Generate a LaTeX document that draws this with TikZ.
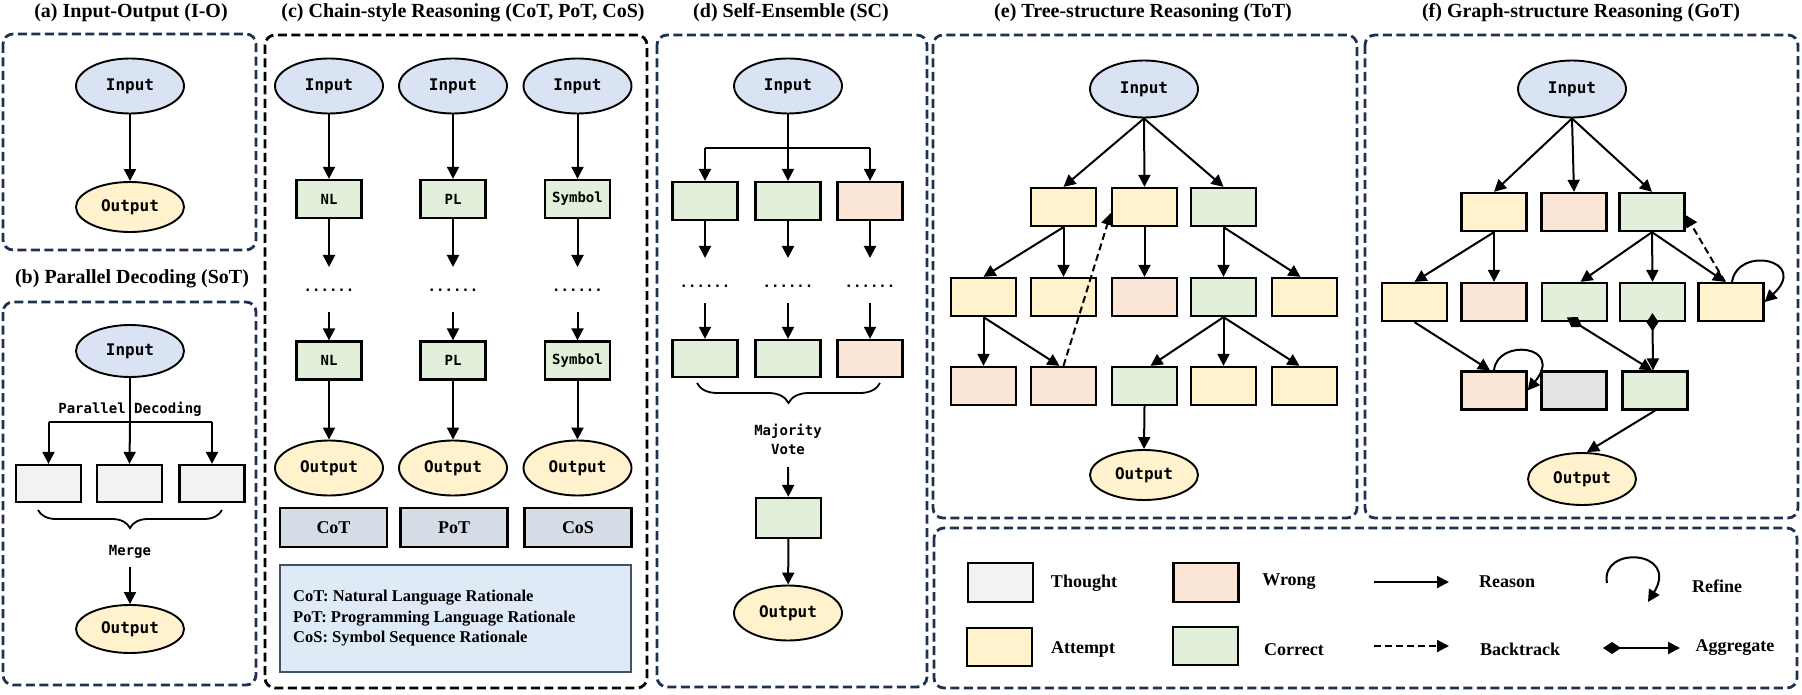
\documentclass[tikz,border=0pt]{standalone}
\usepackage{fontspec}
\setmainfont{Liberation Serif}
\newfontfamily\monof{DejaVu Sans Mono}
\usetikzlibrary{shapes.geometric,arrows.meta,decorations.pathreplacing}
\definecolor{navy}{HTML}{1F3152}
\definecolor{inblue}{HTML}{DAE3F3}
\definecolor{outyel}{HTML}{FFF2CC}
\definecolor{corc}{HTML}{E2EFDA}
\definecolor{wrgc}{HTML}{FBE5D6}
\definecolor{attc}{HTML}{FFF2CC}
\definecolor{thgc}{HTML}{F2F2F2}
\definecolor{thgd}{HTML}{E3E3E3}
\definecolor{cotc}{HTML}{D6DCE5}
\definecolor{legbg}{HTML}{DEEBF7}
\definecolor{legbd}{HTML}{41526E}
\begin{document}
\begin{tikzpicture}[x=1pt,y=-1pt,
  ttl/.style={font=\bfseries\fontsize{20}{24}\selectfont},
  panel/.style={draw=navy, line width=2.8pt, dash pattern=on 9pt off 4.5pt, rounded corners=10pt},
  panelk/.style={panel, draw=black},
  io/.style={ellipse, draw=black, line width=1.9pt, minimum width=108pt, minimum height=55pt, inner sep=0pt, font=\monof\bfseries\fontsize{16}{18}\selectfont},
  inp/.style={io, fill=inblue},
  outp/.style={io, fill=outyel, minimum height=50pt},
  bx/.style={draw=black, line width=2.3pt, minimum width=65pt, minimum height=38pt, inner sep=0pt, font=\monof\bfseries\fontsize{14}{16}\selectfont},
  att/.style={bx, fill=attc},
  cor/.style={bx, fill=corc},
  wrg/.style={bx, fill=wrgc},
  thg/.style={bx, fill=thgc},
  thgg/.style={bx, fill=thgd},
  arr/.style={-{Triangle[length=12pt,width=12pt]}, line width=2pt},
  bt/.style={arr, dash pattern=on 7pt off 4pt},
  agg/.style={{Diamond[length=18pt,width=12pt]}-{Triangle[length=12pt,width=12pt]}, line width=2pt},
  lbl/.style={font=\monof\bfseries\fontsize{14}{19}\selectfont},
  brc/.style={decorate, decoration={brace, amplitude=18pt}, line width=1.8pt},
  legt/.style={font=\bfseries\fontsize{18}{20}\selectfont},
  cotb/.style={draw=black, line width=2.3pt, fill=cotc, minimum width=107pt, minimum height=39pt, inner sep=0pt, font=\bfseries\fontsize{18}{20}\selectfont}
]
\useasboundingbox (0,0) rectangle (1802,695);

% ---------------- (a)
\node[ttl] (ta) at (131,13) {(a) Input-Output (I-O)};
\draw[panel] (3,34) rectangle (256,250);
\node[inp] (aIn) at (130,86) {Input};
\node[outp] (aOut) at (130,207) {Output};
\draw[arr] (aIn) -- (aOut);

% ---------------- (b)
\node[ttl] (tb) at (132,279) {(b) Parallel Decoding (SoT)};
\draw[panel] (3,302) rectangle (256,685);
\node[inp, minimum height=52pt] (bIn) at (130,351) {Input};
\node[lbl] (bPD) at (130,409) {Parallel Decoding};
\coordinate (bJ) at (130,422);
\node[thg, minimum height=37pt] (b1) at (48.5,483.5) {};
\node[thg, minimum height=37pt] (b2) at (129.5,483.5) {};
\node[thg, minimum height=37pt] (b3) at (212,483.5) {};
\draw[line width=2pt] (bIn.south) -- (bJ);
\draw[line width=2pt] (b1.north |- bJ) -- (b3.north |- bJ);
\draw[arr] (b1.north |- bJ) -- (b1.north);
\draw[arr] (bJ) -- (b2.north);
\draw[arr] (b3.north |- bJ) -- (b3.north);
\draw[brc] (222,510) -- (38,510);
\node[lbl] (bM) at (130,552) {Merge};
\node[outp, minimum height=48pt] (bOut) at (130,629) {Output};
\draw[arr] ([yshift=-5pt]bM.south) -- (bOut.north);

% ---------------- (c)
\node[ttl] (tc) at (463,13) {(c) Chain-style Reasoning (CoT, PoT, CoS)};
\draw[panelk] (265,35) rectangle (647,688);
\foreach \i/\x/\t in {1/329/NL, 2/453/PL, 3/577.5/Symbol}{
  \node[inp] (cIn\i) at (\x,86) {Input};
  \node[cor] (cA\i) at (\x,199) {\t};
  \coordinate (cE\i) at (\x,267);
  \node[lbl] (cD\i) at (\x,290) {......};
  \coordinate (cS\i) at (\x,312);
  \node[cor] (cB\i) at (\x,360.5) {\t};
  \node[outp, minimum height=55pt] (cOut\i) at (\x,468) {Output};
  \draw[arr] (cIn\i) -- (cA\i);
  \draw[arr] (cA\i) -- (cE\i);
  \draw[arr] (cS\i) -- (cB\i);
  \draw[arr] (cB\i) -- (cOut\i);
}
\node[cotb] (cL1) at (333.5,527.5) {CoT};
\node[cotb] (cL2) at (454,527.5) {PoT};
\node[cotb] (cL3) at (578,527.5) {CoS};
\node[draw=legbd, fill=legbg, line width=1.8pt, minimum width=351pt, minimum height=107pt, inner sep=0pt] (cLeg) at (455.5,618.5) {};
\node[anchor=west, align=left, inner sep=0pt, font=\bfseries\fontsize{16.5}{20.5}\selectfont] (cLegT) at (293,618.5)
  {CoT: Natural Language Rationale\\PoT: Programming Language Rationale\\CoS: Symbol Sequence Rationale};

% ---------------- (d)
\node[ttl] (td) at (791,13) {(d) Self-Ensemble (SC)};
\draw[panel] (657,35) rectangle (927,687);
\node[inp] (dIn) at (788,86) {Input};
\coordinate (dJ) at (788,148);
\foreach \i/\x/\s in {1/705/cor, 2/788/cor, 3/870/wrg}{
  \node[\s] (dA\i) at (\x,201) {};
  \coordinate (dE\i) at (\x,258);
  \node[lbl] (dD\i) at (\x,286) {......};
  \coordinate (dS\i) at (\x,303);
  \node[\s, minimum height=37pt] (dB\i) at (\x,358.5) {};
  \draw[arr] (dA\i) -- (dE\i);
  \draw[arr] (dS\i) -- (dB\i);
}
\draw[line width=2pt] (dIn.south) -- (dJ);
\draw[line width=2pt] (dA1.north |- dJ) -- (dA3.north |- dJ);
\draw[arr] (dA1.north |- dJ) -- (dA1.north);
\draw[arr] (dJ) -- (dA2.north);
\draw[arr] (dA3.north |- dJ) -- (dA3.north);
\draw[brc, decoration={brace, amplitude=20pt}] (880,383) -- (697,383);
\node[lbl, align=center] (dMV) at (788,439.5) {Majority\\Vote};
\coordinate (dMA) at (788,467);
\node[cor, minimum height=40pt] (dV) at (788.5,518) {};
\node[outp, minimum height=55pt] (dOut) at (788,613) {Output};
\draw[arr] (dMA) -- (dV);
\draw[arr] (dV) -- (dOut);

% ---------------- (e)
\node[ttl] (te) at (1143,13) {(e) Tree-structure Reasoning (ToT)};
\draw[panel] (933,35) rectangle (1357,518);
\node[inp, minimum height=57pt] (eIn) at (1144,89) {Input};
\node[att] (e11) at (1063.5,207) {};
\node[att] (e12) at (1144.5,207) {};
\node[cor] (e13) at (1223.5,207) {};
\node[att] (e21) at (983.5,297) {};
\node[att] (e22) at (1063.5,297) {};
\node[wrg] (e23) at (1144.5,297) {};
\node[cor] (e24) at (1223.5,297) {};
\node[att] (e25) at (1304.5,297) {};
\node[wrg] (e31) at (983.5,386) {};
\node[wrg] (e32) at (1063.5,386) {};
\node[cor] (e33) at (1144.5,386) {};
\node[att] (e34) at (1223.5,386) {};
\node[att] (e35) at (1304.5,386) {};
\node[outp] (eOut) at (1144,475) {Output};
\draw[arr] (eIn.south) -- (e11.north);
\draw[arr] (eIn.south) -- (e12.north);
\draw[arr] (eIn.south) -- (e13.north);
\draw[arr] (e11.south) -- (e21.north);
\draw[arr] (e11.south) -- (e22.north);
\draw[arr] (e12.south) -- (e23.north);
\draw[arr] (e13.south) -- (e24.north);
\draw[arr] (e13.south) -- ([xshift=-4pt]e25.north);
\draw[arr] (e21.south) -- (e31.north);
\draw[arr] (e21.south) -- ([xshift=-4pt]e32.north);
\draw[arr] (e24.south) -- ([xshift=6pt]e33.north);
\draw[arr] (e24.south) -- (e34.north);
\draw[arr] (e24.south) -- ([xshift=-5pt]e35.north);
\draw[arr] (e33.south) -- (eOut.north);
\draw[bt] (e32.north) -- ([yshift=-6pt]e12.west);

% ---------------- (f)
\node[ttl] (tf) at (1581,13) {(f) Graph-structure Reasoning (GoT)};
\draw[panel] (1365,35) rectangle (1798,518);
\node[inp, minimum height=57pt] (fIn) at (1572,89) {Input};
\node[att] (f11) at (1494,212) {};
\node[wrg] (f12) at (1574,212) {};
\node[cor] (f13) at (1652,212) {};
\node[att] (f21) at (1414.5,302) {};
\node[wrg] (f22) at (1494,302) {};
\node[cor] (f23) at (1574.5,302) {};
\node[cor] (f24) at (1652.5,302) {};
\node[att] (f25) at (1731,302) {};
\node[wrg] (f31) at (1494,390.5) {};
\node[thgg] (f32) at (1574,390.5) {};
\node[cor] (f33) at (1655,390.5) {};
\node[outp, minimum height=52pt] (fOut) at (1582,479) {Output};
\draw[arr] (fIn.south) -- (f11.north);
\draw[arr] (fIn.south) -- (f12.north);
\draw[arr] (fIn.south) -- (f13.north);
\draw[arr] (f11.south) -- (f21.north);
\draw[arr] (f11.south) -- (f22.north);
\draw[arr] (f13.south) -- ([xshift=6pt]f23.north);
\draw[arr] (f13.south) -- (f24.north);
\draw[arr] (f13.south) -- ([xshift=-6pt]f25.north);
\draw[bt] ([xshift=-6pt]f25.north) -- ([yshift=-3pt]f13.east);
\draw[arr] ([xshift=1pt]f25.north) .. controls (1738,245) and (1810,260) .. (f25.east);
\draw[arr] (f21.south) -- ([xshift=-4pt]f31.north);
\draw[arr] (f31.north) .. controls (1497,338) and (1565,345) .. (f31.east);
\draw[agg, shorten <=-9pt] (f23.south) -- ([xshift=-3pt]f33.north);
\draw[agg, shorten <=-9pt] (f24.south) -- ([xshift=-2pt]f33.north);
\draw[arr] (f33.south) -- ([xshift=5pt]fOut.north);

% ---------------- legend
\draw[panel] (934,528) rectangle (1797,688);
\node[thg, minimum height=39pt] (lTh) at (1000.5,582.5) {};
\node[legt] (lThT) at (1084,583) {Thought};
\node[wrg, minimum height=39pt] (lWr) at (1206,582.5) {};
\node[legt] (lWrT) at (1289,582) {Wrong};
\coordinate (lRs1) at (1374,582);
\coordinate (lRs2) at (1449,582);
\draw[arr] (lRs1) -- (lRs2);
\node[legt] (lRsT) at (1507,582) {Reason};
\coordinate (lRf1) at (1607,583);
\coordinate (lRf2) at (1648,602);
\draw[arr] (lRf1) .. controls (1600,545) and (1680,550) .. (lRf2);
\node[legt] (lRfT) at (1717,586) {Refine};
\node[att] (lAt) at (999.5,647) {};
\node[legt] (lAtT) at (1083,649) {Attempt};
\node[cor] (lCo) at (1205.5,646) {};
\node[legt] (lCoT) at (1294,650) {Correct};
\coordinate (lBt1) at (1374,646);
\coordinate (lBt2) at (1449,646);
\draw[bt] (lBt1) -- (lBt2);
\node[legt] (lBtT) at (1520,649) {Backtrack};
\coordinate (lAg1) at (1603,648);
\coordinate (lAg2) at (1680,648);
\draw[agg] (lAg1) -- (lAg2);
\node[legt] (lAgT) at (1735,648) {Aggregate};
\end{tikzpicture}
\end{document}
